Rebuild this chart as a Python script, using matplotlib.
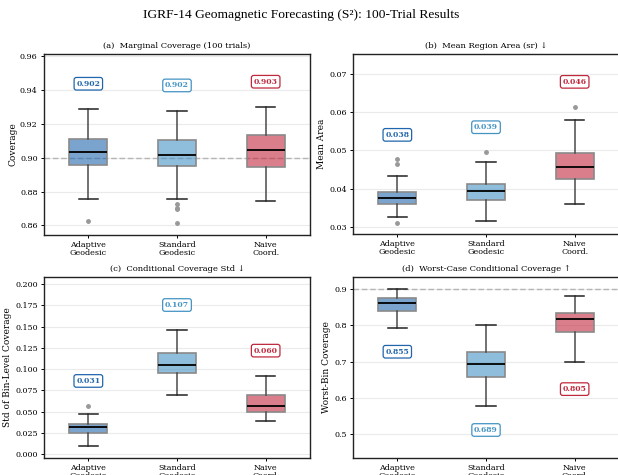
import matplotlib
matplotlib.use("Agg")
import matplotlib.pyplot as plt

plt.rcParams['font.family'] = ['DejaVu Serif']

methods = ["Adaptive\nGeodesic", "Standard\nGeodesic", "Naive\nCoord."]
colors = ["#2166ac", "#4393c3", "#c0283c"]

# (a) Marginal coverage box stats: whislo, q1, med, q3, whishi, fliers
cov_stats = [
    (0.8756, 0.8955, 0.9036, 0.9112, 0.9290, [0.8626]),
    (0.8756, 0.8953, 0.9018, 0.9103, 0.9278, [0.8726, 0.8702, 0.8696, 0.8612]),
    (0.8744, 0.8943, 0.9045, 0.9134, 0.9302, []),
]
cov_means = [0.902, 0.902, 0.903]
cov_label_y = [0.9438, 0.9428, 0.9450]

# (b) Mean region area
area_stats = [
    (0.0326, 0.0359, 0.0376, 0.0390, 0.0434, [0.0478, 0.0464, 0.0310]),
    (0.0314, 0.0370, 0.0394, 0.0412, 0.0470, [0.0496]),
    (0.0360, 0.0424, 0.0457, 0.0493, 0.0581, [0.0615]),
]
area_means = [0.038, 0.039, 0.046]
area_label_y = [0.0541, 0.0561, 0.0680]

# (c) Conditional coverage std
std_stats = [
    (0.0094, 0.0254, 0.0317, 0.0360, 0.0477, [0.0571]),
    (0.0693, 0.0951, 0.1049, 0.1190, 0.1463, []),
    (0.0388, 0.0497, 0.0564, 0.0696, 0.0923, []),
]
std_means = [0.031, 0.107, 0.060]
std_label_y = [0.0861, 0.1753, 0.1217]

# (d) Worst-bin coverage
worst_stats = [
    (0.7927, 0.8403, 0.8615, 0.8744, 0.9000, []),
    (0.5787, 0.6585, 0.6935, 0.7257, 0.8009, []),
    (0.6999, 0.7807, 0.8174, 0.8340, 0.8800, []),
]
worst_means = [0.855, 0.689, 0.805]
worst_label_y = [0.7273, 0.5119, 0.6244]

W, H = 618, 475
fig = plt.figure(figsize=(W / 100, H / 100), dpi=100)

def px_axes(l, t, r, b):
    return fig.add_axes([l / W, 1 - b / H, (r - l) / W, (b - t) / H])

panels = [
    dict(rect=(44, 54, 310, 235), stats=cov_stats, means=cov_means, ly=cov_label_y,
         title="(a)  Marginal Coverage (100 trials)", ylabel="Coverage",
         ylim=(0.8543, 0.9614), ticks=[0.86, 0.88, 0.90, 0.92, 0.94, 0.96], fmt="{:.2f}",
         ref=0.90),
    dict(rect=(353, 54, 619, 234), stats=area_stats, means=area_means, ly=area_label_y,
         title="(b)  Mean Region Area (sr) \u2193", ylabel="Mean Area",
         ylim=(0.0281, 0.0753), ticks=[0.03, 0.04, 0.05, 0.06, 0.07], fmt="{:.2f}",
         ref=None),
    dict(rect=(44, 277, 310, 458), stats=std_stats, means=std_means, ly=std_label_y,
         title="(c)  Conditional Coverage Std \u2193", ylabel="Std of Bin-Level Coverage",
         ylim=(-0.0044, 0.2082), ticks=[0.0, 0.025, 0.05, 0.075, 0.1, 0.125, 0.15, 0.175, 0.2],
         fmt="{:.3f}", ref=None),
    dict(rect=(353, 277, 619, 458), stats=worst_stats, means=worst_means, ly=worst_label_y,
         title="(d)  Worst-Case Conditional Coverage \u2191", ylabel="Worst-Bin Coverage",
         ylim=(0.4348, 0.933), ticks=[0.5, 0.6, 0.7, 0.8, 0.9], fmt="{:.1f}",
         ref=0.90),
]

for p in panels:
    ax = px_axes(*p["rect"])
    bxp_stats = []
    for (lo, q1, med, q3, hi, fl) in p["stats"]:
        bxp_stats.append(dict(whislo=lo, q1=q1, med=med, q3=q3, whishi=hi, fliers=fl))
    art = ax.bxp(bxp_stats, positions=[1, 2, 3], widths=0.43, patch_artist=True,
                 showfliers=True,
                 boxprops=dict(edgecolor="#8a8a8a", linewidth=1.2),
                 medianprops=dict(color="black", linewidth=1.3),
                 whiskerprops=dict(color="#4a4a4a", linewidth=1.1),
                 capprops=dict(color="#222222", linewidth=1.1),
                 flierprops=dict(marker="o", markersize=2.5, markerfacecolor="#999999",
                                 markeredgecolor="#999999", linestyle="none"))
    for patch, c in zip(art["boxes"], colors):
        patch.set_facecolor(matplotlib.colors.to_rgba(c, 0.6))
    for i, (m, y, c) in enumerate(zip(p["means"], p["ly"], colors)):
        ax.text(i + 1, y, f"{m:.3f}", ha="center", va="center", fontsize=5.5,
                fontweight="bold", color=c,
                bbox=dict(boxstyle="round,pad=0.3", facecolor="white", edgecolor=c,
                          linewidth=0.9))
    if p["ref"] is not None:
        ax.axhline(p["ref"], color="#b5b5b5", linestyle=(0, (4, 2)), linewidth=1.0, zorder=1.5)
    ax.set_xlim(0.5, 3.5)
    ax.set_ylim(*p["ylim"])
    ax.set_yticks(p["ticks"])
    ax.set_yticklabels([p["fmt"].format(t) for t in p["ticks"]])
    ax.set_xticks([1, 2, 3])
    ax.set_xticklabels(methods, fontsize=5.8, linespacing=0.95)
    ax.tick_params(axis="y", labelsize=5.8, length=2.5, width=0.7, pad=2)
    ax.tick_params(axis="x", length=2.5, width=0.7, pad=2)
    ax.yaxis.grid(True, color="#ebebeb", linewidth=0.8)
    ax.set_axisbelow(True)
    for s in ax.spines.values():
        s.set_linewidth(1.0)
        s.set_color("#222222")
    ax.set_title(p["title"], fontsize=6.0, pad=4)
    ax.set_ylabel(p["ylabel"], fontsize=6.5, labelpad=2)

fig.text(301 / W, 1 - 15 / H, "IGRF-14 Geomagnetic Forecasting (S\u00b2): 100-Trial Results",
         ha="center", va="center", fontsize=9.7, family=["Liberation Serif", "DejaVu Serif"])

fig.savefig("out.png", dpi=100)
